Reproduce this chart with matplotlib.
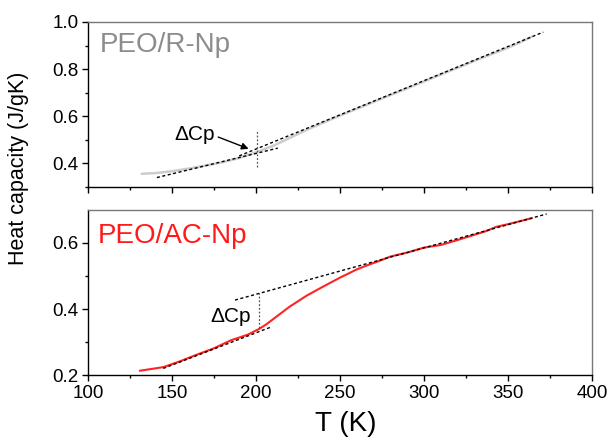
import matplotlib
matplotlib.use("Agg")
import matplotlib.pyplot as plt
import numpy as np

plt.rcParams['font.family'] = ['Liberation Sans', 'DejaVu Sans']

# ---- data ----
T_r = [132, 140, 150, 160, 170, 180, 190, 200, 210, 220, 230, 240, 250, 260,
       270, 280, 290, 300, 310, 320, 330, 340, 350, 357, 364]
cp_r = [0.356, 0.359, 0.367, 0.378, 0.391, 0.405, 0.423, 0.447, 0.474, 0.508,
        0.542, 0.573, 0.603, 0.632, 0.661, 0.690, 0.719, 0.748, 0.777, 0.806,
        0.835, 0.863, 0.891, 0.913, 0.937]

T_ac = [131, 145, 155, 165, 175, 185, 195, 202, 206, 213, 220, 230, 240, 250,
        260, 266, 273, 280, 290, 300, 310, 320, 330, 337, 343, 350, 357, 364]
cp_ac = [0.213, 0.224, 0.242, 0.262, 0.281, 0.305, 0.322, 0.340, 0.353, 0.380,
         0.407, 0.440, 0.468, 0.495, 0.520, 0.532, 0.545, 0.559, 0.571, 0.586,
         0.594, 0.609, 0.625, 0.636, 0.649, 0.657, 0.666, 0.675]

# tangent lines (start/end points) and delta-Cp markers
r_low_T, r_low_cp = [141, 213], [0.340, 0.465]
r_high_T, r_high_cp = [190, 371], [0.432, 0.957]
r_vert_T, r_vert_cp = [200.4, 200.4], [0.384, 0.540]

ac_low_T, ac_low_cp = [144.8, 209.3], [0.220, 0.346]
ac_high_T, ac_high_cp = [187.5, 373], [0.427, 0.688]
ac_vert_T, ac_vert_cp = [202, 202], [0.3415, 0.4476]

xticks = [100, 150, 200, 250, 300, 350, 400]
top_yticks = [0.4, 0.6, 0.8, 1.0]
bot_yticks = [0.2, 0.4, 0.6]

fig = plt.figure(figsize=(6.09, 4.38), dpi=100)
W, H = 609, 438
def rect(l, t, r, b):
    return [l / W, 1 - b / H, (r - l) / W, (b - t) / H]

ax1 = fig.add_axes(rect(88, 22, 592, 187))
ax2 = fig.add_axes(rect(88, 210, 592, 375))

dash = (0, (2.2, 1.8))
for ax in (ax1, ax2):
    ax.set_xlim(100, 400)
    ax.set_xticks(xticks)
    ax.set_xticks(np.arange(125, 400, 50), minor=True)
    ax.tick_params(which='major', direction='out', length=4.5, width=1,
                   labelsize=13.5, pad=2.5, top=False, right=False)
    ax.tick_params(which='minor', direction='out', length=2.3, width=1,
                   top=False, right=False)
    for s in ('left', 'bottom'):
        ax.spines[s].set_color('black')
        ax.spines[s].set_linewidth(1.0)
    for s in ('top', 'right'):
        ax.spines[s].set_color('#777777')
        ax.spines[s].set_linewidth(1.0)

# top panel
ax1.plot(T_r, cp_r, color='#cccccc', lw=1.8, solid_capstyle='round')
ax1.plot(r_low_T, r_low_cp, color='black', lw=1.0, ls=dash)
ax1.plot(r_high_T, r_high_cp, color='black', lw=1.0, ls=dash)
ax1.plot(r_vert_T, r_vert_cp, color='#555555', lw=0.9, ls=(0, (1.5, 1.5)))
ax1.set_ylim(0.3, 1.0)
ax1.set_yticks(top_yticks)
ax1.set_yticks([0.3, 0.5, 0.7, 0.9], minor=True)
ax1.set_yticklabels(['0.4', '0.6', '0.8', '1.0'])
ax1.set_xticklabels([])
ax1.text(0.024, 0.818, 'PEO/R-Np', transform=ax1.transAxes, fontsize=20,
         color='#8c8c8c', va='baseline', ha='left')
ax1.annotate('', xy=(195.6, 0.462), xytext=(177.5, 0.512),
             arrowprops=dict(arrowstyle='-|>', color='black', lw=1.0,
                             mutation_scale=10, shrinkA=0, shrinkB=0))
ax1.text(151.5, 0.498, '\u0394Cp', fontsize=15, va='baseline', ha='left')

# bottom panel
ax2.plot(T_ac, cp_ac, color='#ff2424', lw=1.5)
ax2.plot(ac_low_T, ac_low_cp, color='black', lw=1.0, ls=dash)
ax2.plot(ac_high_T, ac_high_cp, color='black', lw=1.0, ls=dash)
ax2.plot(ac_vert_T, ac_vert_cp, color='#555555', lw=0.9, ls=(0, (1.5, 1.5)))
ax2.set_ylim(0.2, 0.7)
ax2.set_yticks(bot_yticks)
ax2.set_yticks([0.3, 0.5], minor=True)
ax2.set_yticklabels(['0.2', '0.4', '0.6'])
ax2.set_xticklabels([str(v) for v in xticks])
ax2.text(0.020, 0.798, 'PEO/AC-Np', transform=ax2.transAxes, fontsize=20,
         color='#ff1a1a', va='baseline', ha='left')
ax2.text(172.6, 0.3615, '\u0394Cp', fontsize=15, va='baseline', ha='left')

fig.text(346 / W, 1 - 431 / H, 'T (K)', fontsize=20, ha='center', va='baseline')
fig.text(19 / W, 1 - 168 / H, 'Heat capacity (J/gK)', fontsize=15.5,
         rotation=90, ha='center', va='center')

fig.savefig('out.png', dpi=100)
